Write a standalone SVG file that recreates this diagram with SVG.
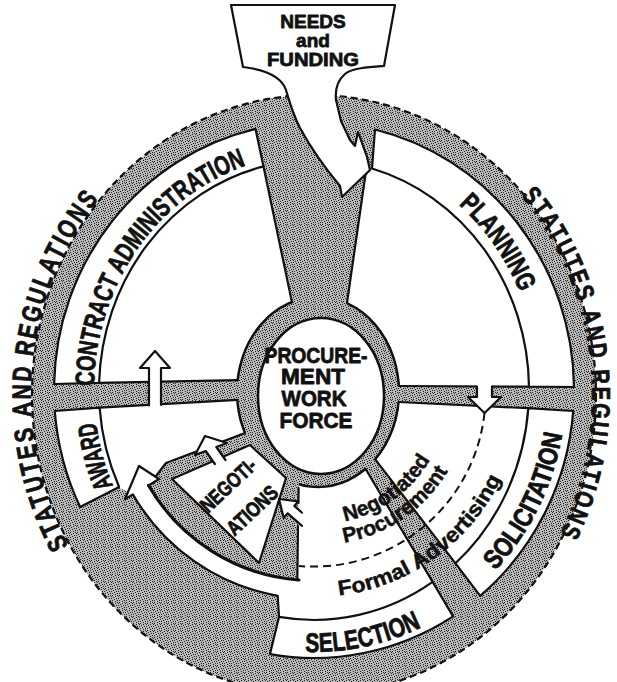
<svg xmlns="http://www.w3.org/2000/svg" width="617" height="682" viewBox="0 0 617 682">
<defs>
  <!-- halftone stipple used for every shaded area -->
  <pattern id="stipple" width="7" height="7" patternUnits="userSpaceOnUse">
    <rect width="7" height="7" fill="#b9b9b9"/>
    <rect x="0" y="0" width="1" height="1" fill="#1a1a1a"/>
    <rect x="3" y="1" width="1" height="1" fill="#1a1a1a"/>
    <rect x="5" y="0" width="1" height="1" fill="#2a2a2a"/>
    <rect x="1" y="2" width="1" height="1" fill="#1a1a1a"/>
    <rect x="6" y="3" width="1" height="1" fill="#2a2a2a"/>
    <rect x="2" y="4" width="1" height="1" fill="#1a1a1a"/>
    <rect x="4" y="3" width="1" height="1" fill="#1a1a1a"/>
    <rect x="0" y="5" width="1" height="1" fill="#2a2a2a"/>
    <rect x="3" y="6" width="1" height="1" fill="#1a1a1a"/>
    <rect x="5" y="5" width="1" height="1" fill="#1a1a1a"/>
    <rect x="6" y="1" width="1" height="1" fill="#333"/>
  </pattern>
  <!-- baselines for curved labels -->
  <path id="p-stat-l" d="M68.9,545.5 A283 301 0 0 1 124.6,171.3"/>
  <path id="p-stat-r" d="M520.6,195.6 A278 298 0 0 1 541.7,565.9"/>
  <path id="p-ca" d="M94,386 A220 236 0 0 1 294.8,154.9"/>
  <path id="p-plan" d="M458.6,204.6 A225 242 0 0 1 525.4,307.2"/>
  <path id="p-sol" d="M495.3,570.6 A252 260 0 0 0 563.5,426.2"/>
  <path id="p-sel" d="M305.2,651.8 A253 262 0 0 0 424.9,625.5"/>
  <path id="p-award" d="M113,486 A220 236 0 0 1 94.8,369.4"/>
  <path id="p-neg" d="M345,521.2 A130 130 0 0 0 435.8,448.9"/>
  <path id="p-proc" d="M344.2,542.7 A151 151 0 0 0 455.9,455.4"/>
  <path id="p-formal" d="M339.2,595.5 A207 207 0 0 0 510.9,454"/>
</defs>
<style>
  .g{fill:url(#stipple);stroke:none}
  .w{fill:#fff;stroke:none}
  .box{fill:#fff;stroke:#111;stroke-width:2.2;stroke-linejoin:round}
  .ln{fill:none;stroke:#111;stroke-width:2.2;stroke-linecap:round;stroke-linejoin:round}
  .heavy{stroke-width:3.2}
  .t{font-family:"Liberation Sans",Arial,sans-serif;font-weight:700;fill:#111;stroke:#111;stroke-width:0.8;paint-order:stroke;stroke-linejoin:round}
  .lc{stroke-width:0.5}
  .big{font-size:27px}
  .mid{font-size:22px}
  .sm{font-size:21px}
</style>

<!-- outer ring of statutes and regulations -->
<g id="statutes-regulations">
  <ellipse class="g" cx="314" cy="395" rx="282" ry="300"/>
  <ellipse cx="314" cy="395" rx="282" ry="300" fill="none" stroke="#111" stroke-width="2.2" stroke-dasharray="7 4"/>
  <text class="t big" letter-spacing="3"><textPath href="#p-stat-l" startOffset="0" textLength="127" lengthAdjust="spacingAndGlyphs">STATUTES</textPath></text>
  <text class="t big" letter-spacing="3"><textPath href="#p-stat-l" startOffset="135" textLength="52" lengthAdjust="spacingAndGlyphs">AND</textPath></text>
  <text class="t big" letter-spacing="3"><textPath href="#p-stat-l" startOffset="195" textLength="175" lengthAdjust="spacingAndGlyphs">REGULATIONS</textPath></text>
  <text class="t" font-size="26" letter-spacing="3"><textPath href="#p-stat-r" startOffset="0" textLength="124" lengthAdjust="spacingAndGlyphs">STATUTES</textPath></text>
  <text class="t" font-size="26" letter-spacing="3"><textPath href="#p-stat-r" startOffset="132" textLength="50" lengthAdjust="spacingAndGlyphs">AND</textPath></text>
  <text class="t" font-size="26" letter-spacing="3"><textPath href="#p-stat-r" startOffset="191" textLength="171" lengthAdjust="spacingAndGlyphs">REGULATIONS</textPath></text>
</g>

<!-- interior field: open area, shading, hub ring, spokes and bars -->
<g id="field">
  <ellipse class="w" cx="314" cy="390" rx="215" ry="230"/>
  <path class="g" d="M277.7,595.8 A209 209 0 0 1 133,494.5 L118,487 L80,507 L140,605 L262,668 L270,654 L279,617 Z"/>
  <ellipse cx="318" cy="392" rx="81" ry="95" fill="url(#stipple)" stroke="#111" stroke-width="2.5"/>
  <path class="g" d="M255,118 L378,118 L372,168.5 L366,176 L347,303 L346,312 L293,312 L292,303 L263.5,166.4 Z"/>
  <path class="g" d="M40,384 L245,380 L245,399.5 L40,411 Z"/>
  <path class="g" d="M390,386 L590,387 L590,411 L390,402 Z"/>
  <path class="g" d="M360,462 L368,455 L375.2,459.4 L490.7,609.4 L462,631 L365.5,468.8 Z"/>
  <path class="g" d="M245,433 L166,463 L148.6,485.5 A191 191 0 0 0 297.3,580.3 L298.5,487 L300,470 L258,428 Z"/>
</g>

<g id="contract-administration">
  <path class="box" d="M54.1,384 A260 268 0 0 1 255.5,128.9 L263.5,166.4 A215 230 0 0 0 99.1,382.8 Z"/>
  <text class="t big"><textPath href="#p-ca" textLength="285" lengthAdjust="spacingAndGlyphs">CONTRACT ADMINISTRATION</textPath></text>
</g>

<g id="planning">
  <path class="box" d="M375,129.5 A260 268 0 0 1 574,387 L529,386.7 A215 230 0 0 0 372,168.5 Z"/>
  <text class="t big"><textPath href="#p-plan" textLength="108" lengthAdjust="spacingAndGlyphs">PLANNING</textPath></text>
</g>

<g id="solicitation">
  <path class="box" d="M573.2,411 A260 268 0 0 1 480.2,595.8 L455.5,563.3 A215 230 0 0 0 528.3,408.2 Z"/>
  <text class="t big"><textPath href="#p-sol" textLength="154" lengthAdjust="spacingAndGlyphs">SOLICITATION</textPath></text>
</g>

<g id="selection">
  <path class="box" d="M453.1,616.4 A260 268 0 0 1 270,654.1 L279,616.9 A215 230 0 0 0 432.6,581.9 Z"/>
  <text class="t big"><textPath href="#p-sel" textLength="120" lengthAdjust="spacingAndGlyphs">SELECTION</textPath></text>
</g>

<g id="award">
  <path class="box" d="M80.1,507 A260 268 0 0 1 54.8,411 L99.6,407.7 A215 230 0 0 0 119.1,487 Z"/>
  <text class="t big"><textPath href="#p-award" textLength="66" lengthAdjust="spacingAndGlyphs">AWARD</textPath></text>
</g>

<g id="negotiations">
  <path class="box" d="M172,479 L250,445 L286,478 L259,563 Z"/>
  <text class="t sm" text-anchor="middle" transform="translate(228,485) rotate(-43)" x="0" y="7.5" textLength="68" lengthAdjust="spacingAndGlyphs">NEGOTI-</text>
  <text class="t sm" text-anchor="middle" transform="translate(252,510) rotate(-43)" x="0" y="7.5" textLength="62" lengthAdjust="spacingAndGlyphs">ATIONS</text>
</g>

<!-- edges of spokes and bars, flow arrows, method divider -->
<g id="connectors">
  <path class="ln" d="M263.5,166.4 L292,302.5"/>
  <path class="ln" d="M365.5,174.4 L347,303"/>
  <path class="ln" d="M99.1,382.8 L238,380.1"/>
  <path class="ln" d="M99.6,407.7 L237.5,399.9"/>
  <path class="ln" d="M529,386.7 L398.8,386"/>
  <path class="ln" d="M528.3,408.2 L398.5,402"/>
  <path class="ln" d="M365.5,468.8 L432.6,581.9"/>
  <path class="ln" d="M375.2,459.4 L455.5,563.3"/>
  <path class="ln" d="M245,433 L166,463 L156,476"/>
  <path class="ln" d="M298.6,488 L298.4,503"/>
  <path class="ln" d="M298,526 L297.3,580.3"/>

  <!-- formal advertising flow to award -->
  <path class="w" d="M295.8,598.2 A209 209 0 0 1 133,494.5 L125,499 L139,466 L159,479 L148.6,485.5 A191 191 0 0 0 297.3,580.3 Z"/>
  <path class="ln" d="M279,617 L277.7,595.8 A209 209 0 0 1 133,494.5 L125,499 L139,466 L159,479 L148.6,485.5"/>
  <path class="ln heavy" d="M148.6,485.5 A191 191 0 0 0 299,580"/>

  <!-- award to contract administration -->
  <path class="w" d="M149,410 L149,368 L140,368 L155,351 L170,368 L161,368 L161,410 Z"/>
  <path class="ln" d="M149,405.5 L149,368 L140,368 L155,351 L170,368 L161,368 L161,404.8"/>

  <!-- planning to solicitation -->
  <path class="w" d="M477,385 L477,397 L468,397 L484.5,413 L501,397 L492,397 L492,385 Z"/>
  <path class="ln" d="M477,386.5 L477,397 L468,397 L484.5,413 L501,397 L492,397 L492,386.5"/>

  <!-- negotiations to award -->
  <path class="w" d="M205,436 L227,443 L216.3,447 L225.5,460 L214.9,464 L205.7,451 L195,455 Z"/>
  <path class="ln" d="M214.9,464 L205.7,451 L195,455 L205,436 L227,443 L216.3,447 L225.5,460"/>

  <!-- negotiated procurement to negotiations -->
  <path class="w" d="M279,499 L298.3,501.4 L294.3,505.9 L302,512.7 L302,525.8 L287.7,513.3 L283.7,517.9 Z"/>
  <path class="ln" d="M302,512.7 L294.3,505.9 L298.3,501.4 L279,499 L283.7,517.9 L287.7,513.3 L302,525.8"/>

  <path d="M484.5,413 A172 172 0 0 1 299,566" fill="none" stroke="#111" stroke-width="2" stroke-dasharray="8 5"/>
</g>

<g id="needs-funding">
  <path fill="#fff" stroke="#111" stroke-width="2.2" stroke-linejoin="round" d="M231,5 L395,5 L384,66 C370,67 352,68 345,74 C338,80 335,90 336,100 L341,121 L350,140 L355,146 L358,132 L367,157 L370,170 L342,197 L340,186 C330,174 312,150 300,128 C292,112 289,100 286,90 C282,78 268,70 243,67 Z"/>
  <text class="t" font-size="19" text-anchor="middle" x="313" y="28">NEEDS</text>
  <text class="t" font-size="19" text-anchor="middle" x="313" y="47">and</text>
  <text class="t" font-size="19" text-anchor="middle" x="313" y="66" textLength="92" lengthAdjust="spacingAndGlyphs">FUNDING</text>
</g>

<g id="procurement-work-force">
  <ellipse cx="321" cy="396" rx="63" ry="78" fill="#fff" stroke="#111" stroke-width="2.5"/>
  <text class="t mid" text-anchor="middle" x="316" y="363" textLength="103" lengthAdjust="spacingAndGlyphs">PROCURE-</text>
  <text class="t mid" text-anchor="middle" x="313" y="384" textLength="64" lengthAdjust="spacingAndGlyphs">MENT</text>
  <text class="t mid" text-anchor="middle" x="314" y="406" textLength="65" lengthAdjust="spacingAndGlyphs">WORK</text>
  <text class="t mid" text-anchor="middle" x="316" y="428" textLength="73" lengthAdjust="spacingAndGlyphs">FORCE</text>
</g>

<g id="procurement-methods">
  <text class="t sm lc"><textPath href="#p-neg" textLength="108" lengthAdjust="spacingAndGlyphs">Negotiated</textPath></text>
  <text class="t sm lc"><textPath href="#p-proc" textLength="130" lengthAdjust="spacingAndGlyphs">Procurement</textPath></text>
  <text class="t sm lc"><textPath href="#p-formal" textLength="208" lengthAdjust="spacingAndGlyphs">Formal Advertising</textPath></text>
</g>
</svg>
